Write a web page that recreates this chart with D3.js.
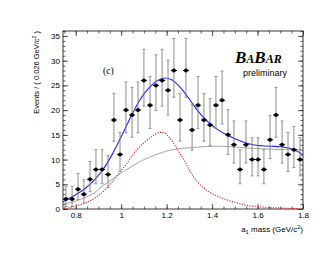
<!DOCTYPE html>
<html>
<head>
<meta charset="utf-8">
<script src="https://cdn.jsdelivr.net/npm/d3@7"></script>
<style>
  body { margin: 0; background: #fff; }
  .tick text { font-family: "Liberation Sans", Arial, sans-serif; font-size: 8px; fill: #000; }
  .axis path { display: none; }
  .axis line { stroke: #333; stroke-width: 0.8; }
</style>
</head>
<body>
<div class="chart"></div>
<script>
// bin centres (GeV/c^2) and events per bin
var binCenters = [0.757, 0.784, 0.810, 0.836, 0.863, 0.889, 0.916, 0.942, 0.968, 0.995,
  1.021, 1.048, 1.074, 1.100, 1.127, 1.153, 1.180, 1.206, 1.232, 1.259,
  1.285, 1.312, 1.338, 1.364, 1.391, 1.417, 1.444, 1.470, 1.496, 1.523,
  1.549, 1.576, 1.602, 1.628, 1.655, 1.681, 1.708, 1.734, 1.760, 1.787];
var events = [2, 2, 4, 3, 6, 8, 8, 7, 18, 11,
  20, 19, 20, 26, 21, 25, 26, 24, 28, 18,
  28, 16, 21, 18, 17, 21, 22, 15, 13, 8,
  13, 10, 10, 8, 14, 19, 13, 11, 12, 10];
var errHi = [2.6, 2.6, 3.2, 2.9, 3.6, 4.0, 4.0, 3.8, 5.4, 4.5,
  5.7, 5.6, 5.7, 6.3, 5.8, 6.2, 6.3, 6.1, 6.5, 5.4,
  6.5, 5.2, 5.8, 5.4, 5.3, 5.8, 5.9, 5.1, 4.8, 4.0,
  4.8, 4.4, 4.4, 4.0, 4.9, 5.6, 4.8, 4.5, 4.7, 4.4];
var errLo = [1.5, 1.5, 2.1, 1.8, 2.5, 2.9, 2.9, 2.7, 4.3, 3.4,
  4.6, 4.5, 4.6, 5.2, 4.7, 5.1, 5.2, 5.0, 5.4, 4.3,
  5.4, 4.1, 4.7, 4.3, 4.2, 4.7, 4.8, 4.0, 3.7, 2.9,
  3.7, 3.3, 3.3, 2.9, 3.8, 4.5, 3.7, 3.4, 3.6, 3.3];
var binWidth = 0.0264;

// total fit (blue)
var fitX = [0.744, 0.76, 0.80, 0.84, 0.88, 0.92, 0.96, 1.00, 1.04, 1.08, 1.12, 1.16, 1.19, 1.22,
  1.26, 1.30, 1.34, 1.38, 1.42, 1.46, 1.50, 1.54, 1.58, 1.62, 1.66, 1.70, 1.74, 1.77, 1.80];
var fitY = [1.4, 1.9, 2.9, 4.1, 5.8, 8.0, 11.0, 14.6, 18.4, 21.9, 24.4, 26.0, 26.5, 26.2,
  24.6, 22.2, 19.7, 17.7, 16.2, 15.1, 14.2, 13.5, 13.0, 12.8, 12.7, 12.6, 12.3, 11.8, 11.0];

// signal component (red dotted)
var sigX = [0.744, 0.77, 0.80, 0.83, 0.86, 0.90, 0.94, 0.98, 1.00, 1.02, 1.06, 1.10, 1.14, 1.17,
  1.19, 1.21, 1.24, 1.28, 1.32, 1.36, 1.40, 1.44, 1.48, 1.52, 1.56, 1.60, 1.65, 1.70, 1.75, 1.80];
var sigY = [0.0, 0.25, 0.6, 1.0, 1.6, 2.7, 4.4, 6.6, 7.8, 8.9, 11.5, 13.4, 14.8, 15.5,
  15.4, 14.6, 12.6, 9.6, 6.4, 4.4, 3.1, 2.3, 1.6, 1.1, 0.7, 0.5, 0.3, 0.2, 0.1, 0.05];

// background component (grey)
var bkgX = [0.744, 0.80, 0.84, 0.88, 0.92, 0.96, 1.00, 1.04, 1.08, 1.12, 1.16, 1.20, 1.24,
  1.30, 1.36, 1.42, 1.48, 1.54, 1.60, 1.66, 1.72, 1.80];
var bkgY = [1.0, 1.6, 2.3, 3.2, 4.7, 6.0, 7.3, 8.4, 9.5, 10.4, 11.1, 11.7, 12.1,
  12.4, 12.6, 12.7, 12.6, 12.4, 12.2, 12.1, 12.0, 12.0];

var svgWidth = 330;
var svgHeight = 255;
var margin = { top: 31, right: 27, bottom: 46, left: 63 };
var width = svgWidth - margin.left - margin.right;
var height = svgHeight - margin.top - margin.bottom;

var svg = d3.select(".chart")
  .append("svg")
  .attr("width", svgWidth)
  .attr("height", svgHeight);

var chartGroup = svg.append("g")
  .attr("transform", `translate(${margin.left}, ${margin.top})`);

var x = d3.scaleLinear().domain([0.744, 1.8]).range([0, width]);
var y = d3.scaleLinear().domain([0, 36]).range([height, 0]);

var xMajor = [0.8, 1, 1.2, 1.4, 1.6, 1.8];
var xMinor = d3.range(0.75, 1.8001, 0.05);
var yMajor = [0, 5, 10, 15, 20, 25, 30, 35];
var yMinor = d3.range(0, 36.001, 1);

// minor ticks on all four sides
chartGroup.append("g").attr("class", "axis")
  .attr("transform", `translate(0, ${height})`)
  .call(d3.axisBottom(x).tickValues(xMinor).tickSize(-2.5).tickFormat(""));
chartGroup.append("g").attr("class", "axis")
  .call(d3.axisTop(x).tickValues(xMinor).tickSize(-2.5).tickFormat(""));
chartGroup.append("g").attr("class", "axis")
  .call(d3.axisLeft(y).tickValues(yMinor).tickSize(-2.5).tickFormat(""));
chartGroup.append("g").attr("class", "axis")
  .attr("transform", `translate(${width}, 0)`)
  .call(d3.axisRight(y).tickValues(yMinor).tickSize(-2.5).tickFormat(""));

// major ticks with labels
chartGroup.append("g").attr("class", "axis")
  .attr("transform", `translate(0, ${height})`)
  .call(d3.axisBottom(x).tickValues(xMajor).tickSize(-5).tickPadding(3).tickFormat(d3.format("")));
chartGroup.append("g").attr("class", "axis")
  .call(d3.axisTop(x).tickValues(xMajor).tickSize(-5).tickFormat(""));
chartGroup.append("g").attr("class", "axis")
  .call(d3.axisLeft(y).tickValues(yMajor).tickSize(-5).tickPadding(3));
chartGroup.append("g").attr("class", "axis")
  .attr("transform", `translate(${width}, 0)`)
  .call(d3.axisRight(y).tickValues(yMajor).tickSize(-5).tickFormat(""));

// frame
chartGroup.append("rect")
  .attr("width", width)
  .attr("height", height)
  .attr("fill", "none")
  .attr("stroke", "#222")
  .attr("stroke-width", 0.9);

var line = d3.line()
  .x(d => x(d[0]))
  .y(d => y(d[1]))
  .curve(d3.curveMonotoneX);

chartGroup.append("path")
  .datum(bkgX.map((v, i) => [v, bkgY[i]]))
  .attr("d", line)
  .attr("fill", "none")
  .attr("stroke", "#9a9a9a")
  .attr("stroke-width", 0.9);

chartGroup.append("path")
  .datum(sigX.map((v, i) => [v, sigY[i]]))
  .attr("d", line)
  .attr("fill", "none")
  .attr("stroke", "#ff1a1a")
  .attr("stroke-width", 1.1)
  .attr("stroke-dasharray", "1.2,1.4");

chartGroup.append("path")
  .datum(fitX.map((v, i) => [v, fitY[i]]))
  .attr("d", line)
  .attr("fill", "none")
  .attr("stroke", "#2424ff")
  .attr("stroke-width", 1.1);

// data points with error bars
var pts = binCenters.map((c, i) => ({ x: c, n: events[i], hi: errHi[i], lo: errLo[i] }));

var pointGroup = chartGroup.selectAll(".pt")
  .data(pts)
  .enter()
  .append("g")
  .attr("class", "pt");

pointGroup.append("line")
  .attr("x1", d => x(d.x))
  .attr("x2", d => x(d.x))
  .attr("y1", d => y(d.n + d.hi))
  .attr("y2", d => y(Math.max(0, d.n - d.lo)))
  .attr("stroke", "#808080")
  .attr("stroke-width", 0.9);

pointGroup.append("line")
  .attr("x1", d => x(d.x) - 1.5)
  .attr("x2", d => x(d.x) + 1.5)
  .attr("y1", d => y(d.n + d.hi))
  .attr("y2", d => y(d.n + d.hi))
  .attr("stroke", "#808080")
  .attr("stroke-width", 0.8);

pointGroup.append("line")
  .attr("x1", d => x(d.x) - 1.5)
  .attr("x2", d => x(d.x) + 1.5)
  .attr("y1", d => y(Math.max(0, d.n - d.lo)))
  .attr("y2", d => y(Math.max(0, d.n - d.lo)))
  .attr("stroke", "#808080")
  .attr("stroke-width", 0.8);

pointGroup.append("line")
  .attr("x1", d => x(d.x - binWidth / 2))
  .attr("x2", d => x(d.x + binWidth / 2))
  .attr("y1", d => y(d.n))
  .attr("y2", d => y(d.n))
  .attr("stroke", "#000")
  .attr("stroke-width", 1);

pointGroup.append("circle")
  .attr("cx", d => x(d.x))
  .attr("cy", d => y(d.n))
  .attr("r", 2)
  .attr("fill", "#000");

// axis titles
var xTitle = svg.append("text")
  .attr("x", 303)
  .attr("y", 232)
  .attr("text-anchor", "end")
  .style("font-family", "Liberation Sans, Arial, sans-serif")
  .style("font-size", "8px");
xTitle.append("tspan").text("a");
xTitle.append("tspan").attr("dy", 2).style("font-size", "5.5px").text("1");
xTitle.append("tspan").attr("dy", -2).text(" mass (GeV/c");
xTitle.append("tspan").attr("dy", -3).style("font-size", "5.5px").text("2");
xTitle.append("tspan").attr("dy", 3).text(")");

var yTitle = svg.append("text")
  .attr("transform", "translate(39, 31) rotate(-90)")
  .attr("text-anchor", "end")
  .style("font-family", "Liberation Sans, Arial, sans-serif")
  .style("font-size", "7.5px");
yTitle.append("tspan").text("Events / ( 0.026 GeV/c");
yTitle.append("tspan").attr("dy", -3).style("font-size", "5px").text("2");
yTitle.append("tspan").attr("dy", 3).text(" )");

// panel label
svg.append("text")
  .attr("x", 103)
  .attr("y", 74)
  .style("font-family", "Liberation Serif, Times New Roman, serif")
  .style("font-size", "9.5px")
  .text("(c)");

// BaBar logo
var logo = svg.append("text")
  .attr("x", 235)
  .attr("y", 63)
  .style("font-family", "Liberation Serif, Times New Roman, serif")
  .style("font-weight", "bold")
  .style("font-style", "italic");
logo.append("tspan").style("font-size", "17px").text("B");
logo.append("tspan").style("font-size", "12px").text("A");
logo.append("tspan").style("font-size", "17px").text("B");
logo.append("tspan").style("font-size", "12px").text("AR");

svg.append("text")
  .attr("x", 287)
  .attr("y", 76)
  .attr("text-anchor", "end")
  .style("font-family", "Liberation Sans, Arial, sans-serif")
  .style("font-size", "9px")
  .text("preliminary");
</script>
</body>
</html>
